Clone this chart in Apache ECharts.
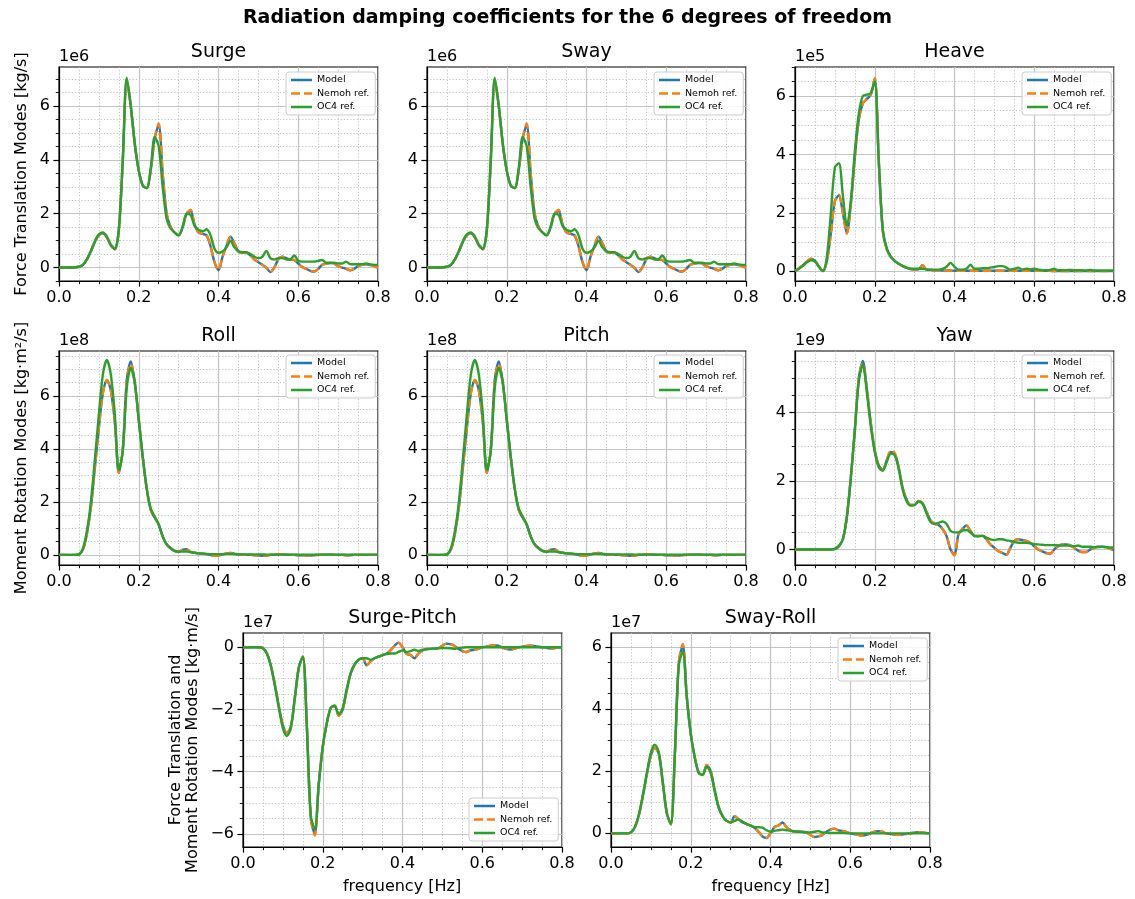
<!DOCTYPE html>
<html>
<head>
<meta charset="utf-8">
<script src="https://cdn.jsdelivr.net/npm/echarts@6/dist/echarts.min.js"></script>
<style>
html,body{margin:0;padding:0;background:#fff;}
#chart{width:1135px;height:899px;}
</style>
</head>
<body>
<div id="chart"></div>
<script>
// ---------- DATA ----------
const freq = [0,0.01,0.02,0.03,0.04,0.05,0.06,0.07,0.08,0.09,
0.1,0.11,0.12,0.13,0.14,0.15,0.16,0.17,0.18,0.19,
0.2,0.21,0.22,0.23,0.24,0.25,0.26,0.27,0.28,0.29,
0.3,0.31,0.32,0.33,0.34,0.35,0.36,0.37,0.38,0.39,
0.4,0.41,0.42,0.43,0.44,0.45,0.46,0.47,0.48,0.49,
0.5,0.51,0.52,0.53,0.54,0.55,0.56,0.57,0.58,0.59,
0.6,0.61,0.62,0.63,0.64,0.65,0.66,0.67,0.68,0.69,
0.7,0.71,0.72,0.73,0.74,0.75,0.76,0.77,0.78,0.79,
0.8];

// Surge (x1e6 kg/s)
const surgeModel = [0,0,0,0,0.01,0.03,0.1,0.3,0.6,0.95,
1.2,1.27,1.12,0.82,0.68,1.4,4.0,7.0,6.0,4.6,
3.6,3.05,2.95,3.6,4.8,5.3,3.5,2.0,1.5,1.3,
1.2,1.5,2.0,2.1,1.6,1.3,1.25,1.2,0.8,0.2,
-0.1,0.4,0.8,1.15,0.9,0.6,0.55,0.55,0.45,0.3,
0.2,0.1,0.0,-0.17,0.0,0.3,0.4,0.35,0.3,0.28,
0.15,0.02,-0.05,-0.12,-0.15,-0.05,0.1,0.15,0.17,0.15,
0.05,0.0,-0.05,-0.1,-0.05,0.05,0.1,0.12,0.1,0.05,
0.0];
const surgeNemoh = [0,0,0,0,0.01,0.03,0.1,0.3,0.6,0.95,
1.2,1.27,1.12,0.82,0.68,1.4,4.0,7.0,6.0,4.6,
3.6,3.05,2.95,3.6,4.8,5.35,3.5,2.0,1.5,1.3,
1.2,1.5,2.0,2.15,1.6,1.3,1.25,1.2,0.8,0.2,
-0.1,0.4,0.8,1.15,0.9,0.6,0.55,0.55,0.45,0.3,
0.2,0.1,0.0,-0.17,0.0,0.3,0.4,0.35,0.3,0.28,
0.15,0.02,-0.05,-0.12,-0.15,-0.05,0.1,0.15,0.17,0.15,
0.05,0.0,-0.05,-0.1,-0.05,0.05,0.1,0.12,0.1,0.05,
0.0];
const surgeOC4 = [0,0,0,0,0.01,0.03,0.1,0.3,0.62,0.98,
1.23,1.3,1.15,0.85,0.7,1.4,4.0,7.05,6.0,4.6,
3.6,3.05,2.95,3.7,4.85,4.5,3.0,1.8,1.45,1.3,
1.2,1.5,2.0,1.95,1.55,1.4,1.35,1.42,1.2,0.7,
0.55,0.6,0.75,1.0,0.75,0.6,0.57,0.57,0.5,0.4,
0.35,0.4,0.62,0.35,0.3,0.35,0.35,0.3,0.3,0.45,
0.25,0.22,0.22,0.22,0.22,0.25,0.28,0.18,0.18,0.18,
0.15,0.15,0.22,0.13,0.12,0.12,0.12,0.15,0.12,0.1,
0.1];

// Sway (x1e6 kg/s)
const swayModel = [0,0,0,0,0.01,0.03,0.1,0.3,0.6,0.95,
1.2,1.27,1.12,0.82,0.68,1.4,4.0,7.0,6.0,4.6,
3.6,3.05,2.95,3.6,4.8,5.3,3.5,2.0,1.5,1.3,
1.2,1.5,2.0,2.1,1.6,1.3,1.25,1.2,0.8,0.2,
-0.1,0.4,0.8,1.15,0.9,0.6,0.55,0.55,0.45,0.3,
0.2,0.1,0.0,-0.17,0.0,0.3,0.4,0.35,0.3,0.28,
0.15,0.02,-0.05,-0.12,-0.15,-0.05,0.1,0.15,0.17,0.15,
0.05,0.0,-0.05,-0.1,-0.05,0.05,0.1,0.12,0.1,0.05,
0.0];
const swayNemoh = [0,0,0,0,0.01,0.03,0.1,0.3,0.6,0.95,
1.2,1.27,1.12,0.82,0.68,1.4,4.0,7.0,6.0,4.6,
3.6,3.05,2.95,3.6,4.8,5.35,3.5,2.0,1.5,1.3,
1.2,1.5,2.0,2.15,1.6,1.3,1.25,1.2,0.8,0.2,
-0.1,0.4,0.8,1.15,0.9,0.6,0.55,0.55,0.45,0.3,
0.2,0.1,0.0,-0.17,0.0,0.3,0.4,0.35,0.3,0.28,
0.15,0.02,-0.05,-0.12,-0.15,-0.05,0.1,0.15,0.17,0.15,
0.05,0.0,-0.05,-0.1,-0.05,0.05,0.1,0.12,0.1,0.05,
0.0];
const swayOC4 = [0,0,0,0,0.01,0.03,0.1,0.3,0.62,0.98,
1.23,1.3,1.15,0.85,0.7,1.4,4.0,7.05,6.0,4.6,
3.6,3.05,2.95,3.7,4.85,4.5,3.0,1.8,1.45,1.3,
1.2,1.5,2.0,1.95,1.55,1.4,1.35,1.42,1.2,0.7,
0.55,0.6,0.75,1.0,0.75,0.6,0.57,0.57,0.5,0.4,
0.35,0.4,0.62,0.35,0.3,0.35,0.35,0.3,0.3,0.45,
0.25,0.22,0.22,0.22,0.22,0.25,0.28,0.18,0.18,0.18,
0.15,0.15,0.22,0.13,0.12,0.12,0.12,0.15,0.12,0.1,
0.1];

// Heave (x1e5 kg/s)
const heaveModel = [0,0.1,0.2,0.33,0.42,0.36,0.15,0.0,0.35,1.3,
2.4,2.6,2.0,1.3,2.3,3.9,5.2,5.75,5.9,6.05,
6.6,3.8,1.4,0.75,0.5,0.35,0.25,0.17,0.11,0.07,
0.05,0.06,0.2,0.05,0.04,0.03,0.03,0.02,0.02,0.02,
0.01,0.01,0.01,0.01,0.01,0.01,0.01,0.01,0.01,0.01,
0.01,0.01,0.01,0.01,0.01,0.01,0.01,0.01,0.01,0.01,
0.01,0.01,0.01,0.01,0.01,0,0,0,0,0,
0,0,0,0,0,0,0,0,0,0,
0];
const heaveNemoh = [0,0.1,0.2,0.33,0.43,0.36,0.15,0.0,0.35,1.3,
2.4,2.62,2.0,1.28,2.3,3.9,5.2,5.75,5.9,6.05,
6.62,3.8,1.4,0.75,0.5,0.35,0.25,0.17,0.11,0.07,
0.05,0.06,0.2,0.05,0.04,0.03,0.03,0.02,0.02,0.02,
0.01,0.01,0.01,0.01,0.01,0.01,0.01,0.01,0.01,0.01,
0.01,0.01,0.01,0.01,0.01,0.01,0.01,0.01,0.01,0.01,
0.01,0.01,0.01,0.01,0.01,0,0,0,0,0,
0,0,0,0,0,0,0,0,0,0,
0];
const heaveOC4 = [0,0.08,0.18,0.3,0.37,0.33,0.15,0.0,0.5,2.0,
3.55,3.7,2.6,1.55,2.4,4.1,5.4,6.0,6.05,6.1,
6.5,3.8,1.45,0.8,0.5,0.35,0.25,0.18,0.12,0.08,
0.08,0.08,0.08,0.06,0.05,0.05,0.05,0.08,0.15,0.28,
0.15,0.05,0.05,0.08,0.22,0.08,0.08,0.1,0.1,0.12,
0.14,0.17,0.17,0.12,0.05,0.08,0.12,0.05,0.08,0.06,
0.08,0.05,0.03,0.03,0.04,0.08,0.03,0.03,0.03,0.04,
0.03,0.03,0.03,0.02,0.04,0.02,0.02,0.02,0.02,0.02,
0.02];

// Roll (x1e8 kg·m²/s)
const rollModel = [0,0,0,0,0,0.02,0.2,0.8,1.8,3.3,
4.8,6.1,6.6,6.2,5.0,3.1,4.0,6.6,7.3,6.5,
5.1,3.7,2.5,1.7,1.4,1.15,0.7,0.4,0.25,0.15,
0.12,0.2,0.22,0.12,0.08,0.06,0.05,0.03,0.0,-0.03,
-0.02,0.02,0.05,0.07,0.05,0.02,0.01,0,0,-0.01,
-0.02,-0.03,-0.02,0,0.01,0.02,0.02,0.01,0,0,
-0.01,-0.01,-0.02,-0.02,-0.01,0,0.01,0.01,0.01,0,
0,0,-0.01,-0.01,0,0,0,0,0,0,
0];
const rollNemoh = [0,0,0,0,0,0.02,0.2,0.8,1.8,3.3,
4.8,6.1,6.6,6.2,5.0,3.1,4.0,6.6,7.2,6.5,
5.1,3.7,2.5,1.7,1.4,1.15,0.7,0.4,0.25,0.15,
0.12,0.2,0.22,0.12,0.08,0.06,0.05,0.03,0.0,-0.03,
-0.02,0.02,0.05,0.07,0.05,0.02,0.01,0,0,-0.01,
-0.02,-0.03,-0.02,0,0.01,0.02,0.02,0.01,0,0,
-0.01,-0.01,-0.02,-0.02,-0.01,0,0.01,0.01,0.01,0,
0,0,-0.01,-0.01,0,0,0,0,0,0,
0];
const rollOC4 = [0,0,0,0,0,0.02,0.25,0.9,2.0,3.6,
5.3,6.8,7.35,6.8,5.3,3.2,3.9,6.3,7.05,6.5,
5.1,3.7,2.5,1.75,1.45,1.15,0.7,0.4,0.25,0.15,
0.12,0.13,0.13,0.1,0.08,0.06,0.05,0.04,0.03,0.03,
0.03,0.03,0.04,0.04,0.03,0.02,0.02,0.02,0.02,0.02,
0.02,0.02,0.01,0.01,0.01,0.01,0.01,0.01,0.01,0.01,
0.01,0.01,0.01,0.01,0.01,0.01,0.01,0.01,0.01,0.01,
0.01,0.01,0.01,0.01,0.01,0.01,0.01,0.01,0.01,0.01,
0.01];

// Pitch (x1e8 kg·m²/s)
const pitchModel = [0,0,0,0,0,0.02,0.2,0.8,1.8,3.3,
4.8,6.1,6.6,6.2,5.0,3.1,4.0,6.6,7.3,6.5,
5.1,3.7,2.5,1.7,1.4,1.15,0.7,0.4,0.25,0.15,
0.12,0.2,0.22,0.12,0.08,0.06,0.05,0.03,0.0,-0.03,
-0.02,0.02,0.05,0.07,0.05,0.02,0.01,0,0,-0.01,
-0.02,-0.03,-0.02,0,0.01,0.02,0.02,0.01,0,0,
-0.01,-0.01,-0.02,-0.02,-0.01,0,0.01,0.01,0.01,0,
0,0,-0.01,-0.01,0,0,0,0,0,0,
0];
const pitchNemoh = [0,0,0,0,0,0.02,0.2,0.8,1.8,3.3,
4.8,6.1,6.6,6.2,5.0,3.1,4.0,6.6,7.2,6.5,
5.1,3.7,2.5,1.7,1.4,1.15,0.7,0.4,0.25,0.15,
0.12,0.2,0.22,0.12,0.08,0.06,0.05,0.03,0.0,-0.03,
-0.02,0.02,0.05,0.07,0.05,0.02,0.01,0,0,-0.01,
-0.02,-0.03,-0.02,0,0.01,0.02,0.02,0.01,0,0,
-0.01,-0.01,-0.02,-0.02,-0.01,0,0.01,0.01,0.01,0,
0,0,-0.01,-0.01,0,0,0,0,0,0,
0];
const pitchOC4 = [0,0,0,0,0,0.02,0.25,0.9,2.0,3.6,
5.3,6.8,7.35,6.8,5.3,3.2,3.9,6.3,7.05,6.5,
5.1,3.7,2.5,1.75,1.45,1.15,0.7,0.4,0.25,0.15,
0.12,0.13,0.13,0.1,0.08,0.06,0.05,0.04,0.03,0.03,
0.03,0.03,0.04,0.04,0.03,0.02,0.02,0.02,0.02,0.02,
0.02,0.02,0.01,0.01,0.01,0.01,0.01,0.01,0.01,0.01,
0.01,0.01,0.01,0.01,0.01,0.01,0.01,0.01,0.01,0.01,
0.01,0.01,0.01,0.01,0.01,0.01,0.01,0.01,0.01,0.01,
0.01];

// Yaw (x1e9 kg·m²/s)
const yawModel = [0,0,0,0,0,0,0,0,0,0,
0.02,0.1,0.3,0.95,2.1,3.5,5.0,5.5,4.7,3.7,
2.9,2.45,2.33,2.6,2.85,2.8,2.4,1.8,1.45,1.3,
1.3,1.42,1.35,1.1,0.85,0.75,0.72,0.6,0.4,0.0,
-0.15,0.45,0.6,0.7,0.55,0.4,0.4,0.4,0.3,0.15,
0.05,-0.05,-0.1,-0.15,0.05,0.25,0.3,0.28,0.25,0.2,
0.1,0.0,-0.05,-0.1,-0.12,0.0,0.1,0.15,0.15,0.12,
0.05,-0.03,-0.07,-0.07,0.0,0.05,0.08,0.08,0.07,0.03,
-0.02];
const yawNemoh = [0,0,0,0,0,0,0,0,0,0,
0.02,0.1,0.3,0.95,2.1,3.5,5.0,5.45,4.7,3.7,
2.9,2.45,2.33,2.6,2.88,2.82,2.4,1.8,1.45,1.3,
1.3,1.42,1.35,1.1,0.85,0.75,0.72,0.6,0.4,0.0,
-0.17,0.45,0.6,0.7,0.55,0.4,0.4,0.4,0.3,0.15,
0.05,-0.05,-0.1,-0.15,0.05,0.25,0.3,0.28,0.25,0.2,
0.1,0.0,-0.05,-0.1,-0.12,0.0,0.1,0.15,0.15,0.12,
0.05,-0.03,-0.07,-0.07,0.0,0.05,0.08,0.08,0.07,0.03,
-0.02];
const yawOC4 = [0,0,0,0,0,0,0,0,0,0,
0.02,0.1,0.3,0.95,2.1,3.45,4.9,5.4,4.6,3.6,
2.85,2.4,2.3,2.55,2.8,2.75,2.35,1.75,1.4,1.28,
1.3,1.4,1.33,1.05,0.8,0.75,0.78,0.82,0.75,0.55,
0.5,0.5,0.55,0.57,0.5,0.4,0.38,0.4,0.35,0.3,
0.28,0.3,0.3,0.27,0.25,0.22,0.2,0.2,0.2,0.18,
0.16,0.15,0.14,0.13,0.13,0.13,0.12,0.12,0.12,0.11,
0.1,0.12,0.08,0.08,0.08,0.07,0.07,0.08,0.07,0.06,
0.06];

// Surge-Pitch (x1e7 kg·m/s)
const surgePitchModel = [0,0,0,0,0,-0.03,-0.2,-0.6,-1.2,-1.9,
-2.5,-2.75,-2.55,-1.6,-0.65,-0.3,-2.5,-5.5,-6.0,-4.4,
-3.2,-2.45,-1.95,-1.88,-2.2,-2.0,-1.4,-0.85,-0.55,-0.4,
-0.35,-0.58,-0.45,-0.35,-0.3,-0.25,-0.2,-0.1,0.05,0.15,
0.0,-0.2,-0.25,-0.35,-0.2,-0.1,-0.05,-0.05,-0.05,-0.03,
0.05,0.12,0.1,0.05,-0.05,-0.12,-0.15,-0.1,-0.08,-0.05,
0.0,0.02,0.05,0.07,0.05,0.0,-0.05,-0.07,-0.05,0.0,
0.02,0.04,0.05,0.04,0.02,0.0,-0.02,-0.04,-0.03,-0.01,
0.0];
const surgePitchNemoh = [0,0,0,0,0,-0.03,-0.2,-0.6,-1.2,-1.9,
-2.5,-2.75,-2.55,-1.6,-0.65,-0.3,-2.5,-5.5,-6.05,-4.4,
-3.2,-2.45,-1.95,-1.88,-2.2,-2.0,-1.4,-0.85,-0.55,-0.4,
-0.35,-0.58,-0.45,-0.35,-0.3,-0.25,-0.2,-0.1,0.05,0.15,
0.0,-0.2,-0.25,-0.35,-0.2,-0.1,-0.05,-0.05,-0.05,-0.03,
0.05,0.12,0.1,0.05,-0.05,-0.12,-0.15,-0.1,-0.08,-0.05,
0.0,0.02,0.05,0.07,0.05,0.0,-0.05,-0.07,-0.05,0.0,
0.02,0.04,0.05,0.04,0.02,0.0,-0.02,-0.04,-0.03,-0.01,
0.0];
const surgePitchOC4 = [0,0,0,0,0,-0.03,-0.2,-0.6,-1.25,-1.95,
-2.6,-2.85,-2.6,-1.65,-0.65,-0.3,-2.5,-5.4,-5.85,-4.4,
-3.2,-2.45,-1.95,-1.88,-2.15,-1.95,-1.35,-0.82,-0.55,-0.4,
-0.35,-0.35,-0.4,-0.35,-0.3,-0.25,-0.22,-0.2,-0.2,-0.15,
-0.1,-0.15,-0.12,-0.08,-0.12,-0.08,-0.07,-0.05,-0.04,-0.03,
-0.02,-0.02,-0.03,-0.05,-0.02,-0.01,0,0,0,0,
0,0,0,0,0,0,0,0,0,0,
0,0,0,0,0,0,0,0,0,0,
0];

// Sway-Roll (x1e7 kg·m/s)
const swayRollModel = [0,0,0,0,0,0.03,0.2,0.6,1.2,1.9,
2.5,2.75,2.55,1.6,0.65,0.3,2.5,5.5,6.05,4.4,
3.2,2.45,1.95,1.9,2.2,2.0,1.4,0.85,0.55,0.4,
0.35,0.55,0.45,0.35,0.3,0.25,0.18,0.05,-0.1,-0.15,
0.0,0.2,0.25,0.35,0.2,0.1,0.05,0.05,0.05,0.03,
-0.05,-0.12,-0.1,-0.05,0.05,0.12,0.15,0.1,0.08,0.05,
0.0,-0.02,-0.05,-0.07,-0.05,0.0,0.05,0.07,0.05,0.0,
-0.02,-0.04,-0.05,-0.04,-0.02,0.0,0.02,0.04,0.03,0.01,
0.0];
const swayRollNemoh = [0,0,0,0,0,0.03,0.2,0.6,1.2,1.9,
2.5,2.75,2.55,1.6,0.65,0.3,2.5,5.5,6.1,4.4,
3.2,2.45,1.95,1.9,2.2,2.0,1.4,0.85,0.55,0.4,
0.35,0.55,0.45,0.35,0.3,0.25,0.18,0.05,-0.1,-0.15,
0.0,0.2,0.25,0.35,0.2,0.1,0.05,0.05,0.05,0.03,
-0.05,-0.12,-0.1,-0.05,0.05,0.12,0.15,0.1,0.08,0.05,
0.0,-0.02,-0.05,-0.07,-0.05,0.0,0.05,0.07,0.05,0.0,
-0.02,-0.04,-0.05,-0.04,-0.02,0.0,0.02,0.04,0.03,0.01,
0.0];
const swayRollOC4 = [0,0,0,0,0,0.03,0.2,0.6,1.25,1.95,
2.6,2.85,2.6,1.65,0.65,0.3,2.5,5.4,5.85,4.4,
3.2,2.45,1.95,1.88,2.15,1.95,1.35,0.82,0.55,0.4,
0.35,0.4,0.45,0.38,0.3,0.25,0.2,0.2,0.18,0.1,
0.05,0.08,0.1,0.12,0.1,0.08,0.07,0.05,0.04,0.03,
0.03,0.05,0.07,0.03,0.02,0.01,0.01,0.01,0.01,0,
0,0,0,0,0,0,0,0,0,0,
0,0,0,0,0,0,0,0,0,0,
0];

// Tick labels
const xTickLabels = [0, 0.2, 0.4, 0.6, 0.8];
const posTicks = [0, 2, 4, 6];
const yawTicks = [0, 2, 4];
const negTicks = [-6, -4, -2, 0];

const seriesNames = ['Model', 'Nemoh ref.', 'OC4 ref.'];

// ---------- LAYOUT ----------
const FONT = "'DejaVu Sans', sans-serif";
const W = 319, H = 214;
const panels = [
  {title:'Surge', exp:'1e6', d:[surgeModel,surgeNemoh,surgeOC4], ticks:posTicks, ymin:-0.5, ymax:7.45, left:59, top:67, lg:[286,72]},
  {title:'Sway', exp:'1e6', d:[swayModel,swayNemoh,swayOC4], ticks:posTicks, ymin:-0.5, ymax:7.45, left:427, top:67, lg:[654,72]},
  {title:'Heave', exp:'1e5', d:[heaveModel,heaveNemoh,heaveOC4], ticks:posTicks, ymin:-0.34, ymax:7.0, left:795, top:67, lg:[1022,72]},
  {title:'Roll', exp:'1e8', d:[rollModel,rollNemoh,rollOC4], ticks:posTicks, ymin:-0.38, ymax:7.69, left:59, top:351, lg:[286,355]},
  {title:'Pitch', exp:'1e8', d:[pitchModel,pitchNemoh,pitchOC4], ticks:posTicks, ymin:-0.38, ymax:7.69, left:427, top:351, lg:[654,355]},
  {title:'Yaw', exp:'1e9', d:[yawModel,yawNemoh,yawOC4], ticks:yawTicks, ymin:-0.45, ymax:5.79, left:795, top:351, lg:[1022,355]},
  {title:'Surge-Pitch', exp:'1e7', d:[surgePitchModel,surgePitchNemoh,surgePitchOC4], ticks:negTicks, ymin:-6.42, ymax:0.46, left:243, top:633, lg:[469,798]},
  {title:'Sway-Roll', exp:'1e7', d:[swayRollModel,swayRollNemoh,swayRollOC4], ticks:posTicks, ymin:-0.44, ymax:6.45, left:611, top:633, lg:[838,638]}
];

const colors = ['#1f77b4', '#ff7f0e', '#2ca02c'];
const lineTypes = ['solid', [9, 4], 'solid'];
const legendIcons = [
  'path://M0,0H20V2.4H0Z',
  'path://M0,0H8.6V2.4H0ZM12.4,0H20V2.4H12.4Z',
  'path://M0,0H20V2.4H0Z'
];

const grids = [], xAxes = [], yAxes = [], series = [], legends = [], graphics = [];
const fmtY = v => String(Math.round(v)).replace('-', '\u2212');

panels.forEach((p, i) => {
  grids.push({left:p.left, top:p.top, width:W, height:H, show:true, borderColor:'#000', borderWidth:1.2, backgroundColor:'transparent'});
  xAxes.push({
    gridIndex:i, type:'value', min:0, max:0.8, interval:0.2,
    axisLine:{show:true, onZero:false, lineStyle:{color:'#000', width:1.2}},
    axisTick:{show:true, length:5.6, lineStyle:{color:'#000', width:1.2}},
    minorTick:{show:true, splitNumber:4, length:3.2, lineStyle:{color:'#000', width:0.9}},
    axisLabel:{color:'#000', fontSize:16, fontFamily:FONT, margin:9, customValues:xTickLabels, formatter:v => Number(v).toFixed(1)},
    splitLine:{show:true, lineStyle:{color:'#c4c4c4', width:1.2}},
    minorSplitLine:{show:true, lineStyle:{color:'#b4b4b4', width:0.8, type:[1.2, 2]}}
  });
  const minor = [];
  for (let k = Math.ceil(p.ymin / 0.5); k * 0.5 <= p.ymax; k++) {
    const v = k * 0.5;
    if (p.ticks.indexOf(v) < 0) minor.push(v);
  }
  yAxes.push({
    gridIndex:i, type:'value', position:'left', min:p.ymin, max:p.ymax,
    axisLine:{show:true, onZero:false, lineStyle:{color:'#000', width:1.2}},
    axisTick:{show:true, length:5.6, customValues:p.ticks, lineStyle:{color:'#000', width:1.2}},
    axisLabel:{color:'#000', fontSize:16, fontFamily:FONT, margin:9, customValues:p.ticks, formatter:fmtY},
    splitLine:{show:true, lineStyle:{color:'#c4c4c4', width:1.2}}
  });
  yAxes.push({
    gridIndex:i, type:'value', position:'left', min:p.ymin, max:p.ymax,
    axisLine:{show:false},
    axisTick:{show:true, length:3.2, customValues:minor, lineStyle:{color:'#000', width:0.9}},
    axisLabel:{show:false},
    splitLine:{show:true, lineStyle:{color:'#b4b4b4', width:0.8, type:[1.2, 2]}}
  });
  p.d.forEach((arr, s) => {
    series.push({
      name:seriesNames[s], type:'line', xAxisIndex:i, yAxisIndex:2 * i,
      data:freq.map((f, k) => [f, arr[k]]),
      symbol:'none', showSymbol:false, smooth:0.3,
      lineStyle:{color:colors[s], width:2.4, type:lineTypes[s]},
      itemStyle:{color:colors[s]},
      z:2 + s
    });
  });
  legends.push({
    left:p.lg[0], top:p.lg[1], orient:'vertical',
    data:seriesNames.map((n, s) => ({name:n, icon:legendIcons[s]})),
    selectedMode:false,
    itemWidth:21, itemHeight:10, itemGap:3.5, padding:[3, 6, 3, 5],
    textStyle:{fontSize:9.5, color:'#000', fontFamily:FONT},
    backgroundColor:'rgba(255,255,255,0.85)', borderColor:'#cccccc', borderWidth:1, borderRadius:3
  });
  graphics.push({type:'text', x:p.left + W / 2, y:p.top - 15, style:{text:p.title, fontSize:19, fontFamily:FONT, fill:'#000', textAlign:'center', textVerticalAlign:'middle'}});
  graphics.push({type:'text', x:p.left, y:p.top - 10, style:{text:p.exp, fontSize:16, fontFamily:FONT, fill:'#000', textAlign:'left', textVerticalAlign:'middle'}});
});

graphics.push({type:'text', x:567.5, y:18, style:{text:'Radiation damping coefficients for the 6 degrees of freedom', fontSize:19, fontWeight:'bold', fontFamily:FONT, fill:'#000', textAlign:'center', textVerticalAlign:'middle'}});
graphics.push({type:'text', x:22, y:174, rotation:Math.PI / 2, style:{text:'Force Translation Modes [kg/s]', fontSize:16, fontFamily:FONT, fill:'#000', textAlign:'center', textVerticalAlign:'middle'}});
graphics.push({type:'text', x:22, y:458, rotation:Math.PI / 2, style:{text:'Moment Rotation Modes [kg\u00b7m\u00b2/s]', fontSize:16, fontFamily:FONT, fill:'#000', textAlign:'center', textVerticalAlign:'middle'}});
graphics.push({type:'text', x:184, y:740, rotation:Math.PI / 2, style:{text:'Force Translation and\nMoment Rotation Modes [kg\u00b7m/s]', fontSize:16, lineHeight:17, fontFamily:FONT, fill:'#000', textAlign:'center', textVerticalAlign:'middle'}});
graphics.push({type:'text', x:402, y:887, style:{text:'frequency [Hz]', fontSize:16, fontFamily:FONT, fill:'#000', textAlign:'center', textVerticalAlign:'middle'}});
graphics.push({type:'text', x:770.5, y:887, style:{text:'frequency [Hz]', fontSize:16, fontFamily:FONT, fill:'#000', textAlign:'center', textVerticalAlign:'middle'}});

const chart = echarts.init(document.getElementById('chart'), null, {renderer:'canvas'});
chart.setOption({
  animation:false,
  backgroundColor:'#ffffff',
  grid:grids, xAxis:xAxes, yAxis:yAxes, series:series, legend:legends, graphic:graphics
});
</script>
</body>
</html>
